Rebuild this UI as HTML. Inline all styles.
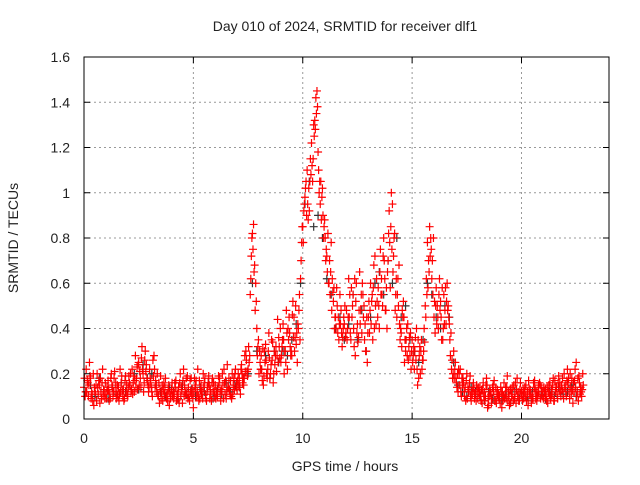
<!DOCTYPE html>
<html><head><meta charset="utf-8"><style>
body{margin:0;background:#fff;}
svg text{font-family:"Liberation Sans",sans-serif;font-size:14px;fill:#222;}
</style></head><body>
<svg id="chart" width="640" height="480" xmlns="http://www.w3.org/2000/svg">
<rect width="640" height="480" fill="#fff"/>
<text x="345" y="31" text-anchor="middle">Day 010 of 2024, SRMTID for receiver dlf1</text>
<text x="345" y="471" text-anchor="middle">GPS time / hours</text>
<text x="18" y="238" text-anchor="middle" transform="rotate(-90 18 238)">SRMTID / TECUs</text>
<g id="grid"></g>
<g id="marks"></g>
<rect x="84" y="57" width="525" height="362" fill="none" stroke="#000" stroke-width="1"/>
<g id="ticks"></g>
</svg>
<script>
const xTicks=[0,5,10,15,20];
const yTicks=[0,0.2,0.4,0.6,0.8,1,1.2,1.4,1.6];
const yTickLabels=["0","0.2","0.4","0.6","0.8","1","1.2","1.4","1.6"];
const red1=[.14,.22,.10,.18,.08,.12,.20,.15,.09,.13,
.11,.17,.09,.14,.21,.12,.08,.16,.13,.19,
.10,.15,.22,.12,.18,.25,.14,.20,.30,.17,
.22,.12,.28,.15,.10,.19,.08,.14,.11,.06,
.13,.09,.17,.11,.20,.07,.15,.12,.10,.18,
.05,.14,.22,.09,.12,.16,.08,.19,.11,.13,
.15,.10,.18,.12,.22,.09,.14,.17,.11,.20,
.13,.18,.24,.15,.30,.22,.55,.82,.68,.40,
.20,.28,.15,.33,.22,.18,.26,.30,.21,.36,
.25,.42,.30,.22,.38,.28,.45,.33,.40,.62,
.85,.98,1.10,.92,1.22,1.30,1.42,1.18,.95,1.02,
.88,.72,.60,.78,.52,.45,.38,.55,.32,.42,
.48,.62,.35,.55,.28,.42,.65,.38,.50,.30,
.45,.60,.35,.72,.52,.40,.62,.80,.48,.70,
.58,.95,.82,.45,.68,.38,.52,.30,.42,.28,
.35,.22,.40,.18,.30,.26,.50,.78,.85,.62,
.45,.58,.40,.52,.35,.48,.60,.42,.22,.30,
.18,.12,.22,.15,.10,.20,.13,.08,.16,.11,
.09,.14,.07,.12,.18,.06,.11,.15,.08,.13,
.10,.05,.16,.09,.12,.07,.14,.11,.18,.08,
.12,.09,.15,.06,.13,.10,.17,.08,.11,.14,
.09,.13,.07,.16,.11,.08,.14,.19,.10,.12,
.15,.22,.09,.18,.12,.25,.08,.14,.20];
const red2=[.10,.17,.25,.12,.06,.15,.11,.18,.22,.09,
.14,.08,.20,.12,.16,.10,.22,.13,.09,.15,
.19,.12,.16,.28,.13,.21,.32,.16,.24,.12,
.16,.26,.14,.20,.07,.12,.16,.10,.13,.09,
.10,.16,.12,.07,.14,.22,.11,.09,.17,.13,
.18,.10,.08,.15,.20,.11,.14,.09,.16,.12,
.12,.19,.08,.15,.11,.24,.13,.09,.18,.14,
.20,.11,.16,.28,.21,.25,.72,.86,.60,.32,
.25,.17,.30,.20,.38,.24,.16,.28,.44,.27,
.32,.20,.48,.35,.28,.52,.36,.25,.55,.78,
.92,1.05,.88,1.15,1.05,1.32,1.45,1.00,.88,.80,
.70,.82,.55,.62,.40,.58,.35,.48,.40,.36,
.40,.55,.45,.32,.60,.36,.48,.55,.42,.25,
.38,.52,.68,.42,.58,.75,.50,.62,.40,.92,
1.0,.72,.55,.62,.35,.48,.25,.40,.32,.22,
.28,.36,.15,.32,.22,.40,.62,.70,.80,.55,
.38,.50,.62,.35,.55,.42,.50,.28,.18,.22,
.14,.20,.10,.16,.08,.14,.19,.11,.09,.15,
.12,.08,.16,.10,.05,.13,.09,.17,.07,.11,
.14,.08,.11,.19,.06,.10,.15,.07,.12,.16,
.08,.14,.10,.13,.07,.16,.09,.12,.15,.10,
.12,.08,.15,.10,.18,.12,.09,.16,.13,.20,
.10,.18,.14,.07,.22,.12,.16,.10];
const red3=[.18,.12,.15,.09,.20,.11,.14,.07,.16,.12,
.09,.13,.18,.10,.12,.15,.11,.19,.08,.12,
.14,.20,.11,.17,.23,.15,.27,.12,.21,.15,
.18,.10,.22,.12,.16,.09,.13,.18,.08,.12,
.16,.11,.08,.14,.10,.17,.12,.19,.08,.11,
.12,.17,.10,.13,.09,.18,.12,.15,.08,.16,
.09,.14,.12,.20,.16,.12,.18,.10,.15,.22,
.17,.14,.20,.18,.26,.32,.62,.75,.48,.28,
.30,.22,.19,.26,.30,.20,.34,.24,.28,.32,
.28,.35,.25,.40,.32,.46,.30,.38,.48,.70,
.78,1.02,.95,1.05,1.12,1.25,1.35,1.10,1.05,.90,
.80,.65,.70,.48,.58,.40,.45,.42,.36,.50,
.35,.45,.58,.40,.52,.34,.42,.60,.35,.45,
.52,.42,.58,.50,.45,.65,.55,.70,.58,.82,
.85,.65,.48,.55,.42,.32,.45,.35,.26,.38,
.25,.30,.22,.28,.35,.30,.45,.58,.72,.70,
.52,.42,.55,.45,.40,.58,.48,.35,.26,.18,
.16,.22,.12,.18,.14,.09,.16,.12,.13,.08,
.14,.10,.13,.08,.15,.10,.07,.12,.14,.10,
.07,.12,.09,.14,.10,.13,.08,.16,.10,.13,
.10,.12,.08,.17,.11,.09,.13,.10,.16,.12,
.14,.10,.12,.09,.15,.17,.11,.13,.15,.09,
.12,.16,.20,.13,.17,.10,.19,.12,.15];
const red4=[.12,.16,.19,.11,.14,.08,.17,.12,.10,.16,
.13,.11,.15,.18,.09,.14,.12,.10,.17,.11,
.16,.13,.19,.14,.24,.18,.22,.26,.18,.14,
.14,.19,.17,.11,.13,.15,.11,.09,.15,.10,
.12,.14,.09,.16,.13,.10,.18,.14,.12,.09,
.15,.12,.17,.11,.14,.09,.16,.13,.18,.10,
.11,.16,.13,.09,.17,.14,.11,.20,.13,.16,
.15,.22,.18,.21,.19,.28,.80,.65,.52,.35,
.22,.31,.25,.18,.27,.35,.20,.32,.25,.40,
.35,.30,.38,.45,.30,.36,.50,.42,.35,.85,
.95,.90,1.02,1.08,1.15,1.28,1.38,1.05,.98,.85,
.75,.60,.65,.56,.45,.50,.42,.38,.45,.38,
.45,.38,.50,.62,.38,.48,.55,.45,.30,.38,
.48,.55,.40,.62,.50,.55,.72,.48,.65,.78,
.75,.80,.62,.50,.40,.45,.35,.28,.36,.30,
.32,.26,.35,.20,.26,.34,.55,.65,.75,.80,
.50,.45,.48,.58,.42,.52,.45,.38,.20,.25,
.20,.15,.18,.12,.17,.12,.10,.14,.11,.13,
.11,.13,.10,.15,.09,.12,.14,.08,.11,.09,
.12,.10,.14,.08,.13,.11,.09,.13,.08,.11,
.13,.10,.12,.11,.09,.14,.12,.15,.09,.12,
.10,.14,.11,.13,.08,.14,.16,.12,.18,.14,
.17,.13,.11,.16,.14,.18,.11,.13];
const gray=[.12,.15,.10,.18,.13,.09,.14,.11,.16,.12,.15,.20,.13,.24,.18,
.20,.15,.12,.10,.14,.12,.09,.15,.11,.13,.10,.14,.12,.16,.09,
.13,.11,.16,.12,.15,.14,.18,.20,.60,.30,.22,.28,.18,.30,.25,
.30,.28,.35,.42,.60,.95,1.05,.85,.90,.80,.62,.55,.40,.45,.35,
.42,.55,.35,.48,.30,.45,.60,.65,.55,.70,.60,.80,.45,.50,.35,
.30,.25,.35,.60,.55,.45,.40,.50,.45,.25,.15,.12,.10,.14,.12,
.10,.08,.12,.09,.11,.08,.10,.07,.12,.09,.10,.08,.12,.10,.11,
.09,.12,.10,.14,.11,.12,.15,.10,.13];
const X0=84,X1=609,Y0=419,Y1=57,XMAX=24,YMAX=1.6;
function sx(v){return X0+v/XMAX*(X1-X0);}
function sy(v){return Y0-v/YMAX*(Y0-Y1);}
const NS="http://www.w3.org/2000/svg";
function mk(tag,at,parent){const e=document.createElementNS(NS,tag);for(const k in at)e.setAttribute(k,at[k]);parent.appendChild(e);return e;}
const grid=document.getElementById('grid'),ticks=document.getElementById('ticks'),marks=document.getElementById('marks');
xTicks.forEach((t,i)=>{const x=sx(t);
 if(t>0){const g=mk('line',{x1:x,x2:x,y1:Y1,y2:Y0,stroke:'#999','stroke-dasharray':'2,3'},grid);
 
 }
 mk('line',{x1:x,x2:x,y1:Y0,y2:Y0-6,stroke:'#000'},ticks);
 mk('line',{x1:x,x2:x,y1:Y1,y2:Y1+6,stroke:'#000'},ticks);
 const l=mk('text',{x:x,y:443,'text-anchor':'middle'},ticks);l.textContent=t;
 
 });
yTicks.forEach((t,i)=>{const y=sy(t);
 if(t>0&&t<YMAX){const g=mk('line',{x1:X0,x2:X1,y1:y,y2:y,stroke:'#999','stroke-dasharray':'2,3'},grid);
 
 }
 mk('line',{x1:X0,x2:X0+6,y1:y,y2:y,stroke:'#000'},ticks);
 mk('line',{x1:X1,x2:X1-6,y1:y,y2:y,stroke:'#000'},ticks);
 const l=mk('text',{x:70,y:y+5,'text-anchor':'end'},ticks);l.textContent=yTickLabels[i];
 
 });
function plus(t,v,color,name){const x=sx(t),y=sy(v);
 const p=mk('path',{d:`M${x-4},${y}h8M${x},${y-4}v8`,stroke:color,'stroke-width':1.2,fill:'none'},marks);
 
 }
gray.forEach((v,i)=>plus(i*0.2+0.1,v,'#333','gray-point'));
red1.forEach((v,i)=>plus(i*0.1,v,'#f00','red-point'));
red2.forEach((v,i)=>plus(i*0.1+0.05,v,'#f00','red-point'));
red3.forEach((v,i)=>plus(i*0.1+0.025,v,'#f00','red-point'));
red4.forEach((v,i)=>plus(i*0.1+0.075,v,'#f00','red-point'));
</script>
</body></html>
